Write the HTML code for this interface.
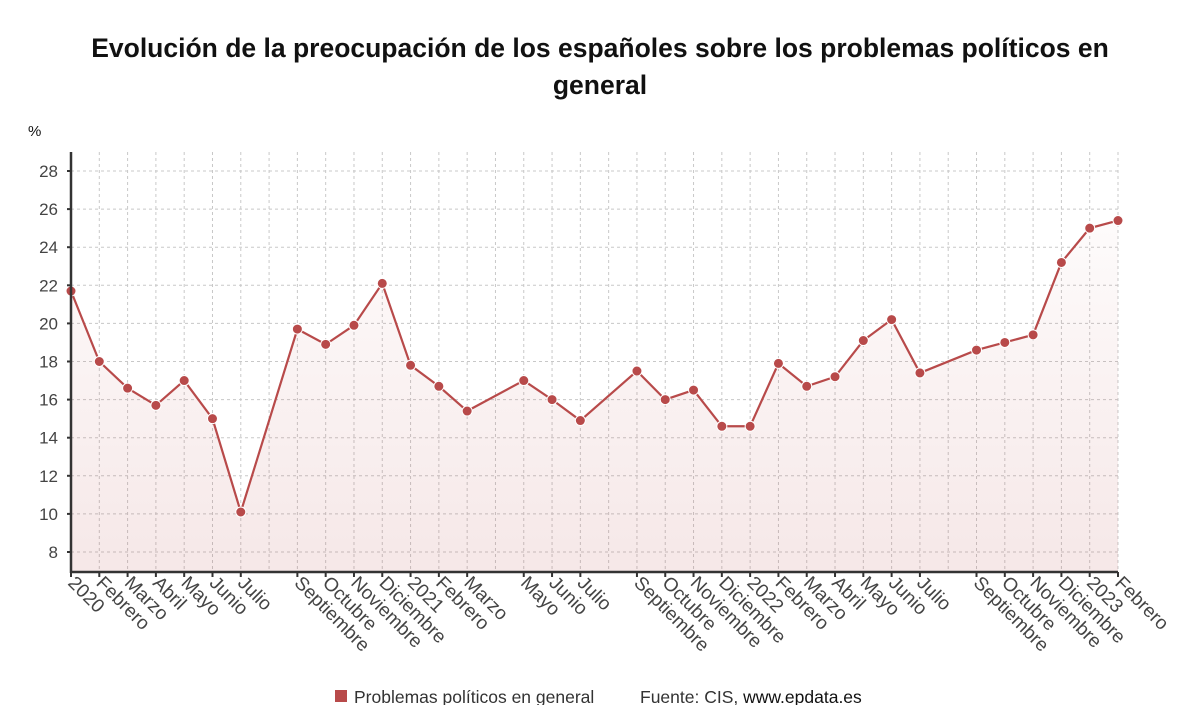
<!DOCTYPE html>
<html><head><meta charset="utf-8"><style>
body{margin:0;background:#fff;font-family:"Liberation Sans","DejaVu Sans",sans-serif}
</style></head><body>
<svg width="1200" height="705" xmlns="http://www.w3.org/2000/svg">
<defs><linearGradient id="g" x1="0" y1="0" x2="0" y2="1"><stop offset="0" stop-color="#b84a4a" stop-opacity="0.02"/><stop offset="1" stop-color="#b84a4a" stop-opacity="0.13"/></linearGradient></defs>
<text x="600" y="57" text-anchor="middle" font-size="26.5" font-weight="bold" fill="#111">Evolución de la preocupación de los españoles sobre los problemas políticos en</text>
<text x="600" y="94" text-anchor="middle" font-size="26.5" font-weight="bold" fill="#111">general</text>
<text x="28" y="136" font-size="15" fill="#111">%</text>
<g id="grid"></g><g id="area"></g><g id="line"></g><g id="axes"></g>
<g>
<rect x="335" y="690" width="12" height="12" fill="#b84a4a"/>
<text x="354" y="703" font-size="17.5" fill="#333">Problemas políticos en general</text>
<text x="640" y="703" font-size="17.5" fill="#333">Fuente: CIS, <tspan fill="#111">www.epdata.es</tspan></text>
</g>
</svg>
<script>
const idx=[0,1,2,3,4,5,6,8,9,10,11,12,13,14,16,17,18,20,21,22,23,24,25,26,27,28,29,30,32,33,34,35,36,37];
const labels=["2020","Febrero","Marzo","Abril","Mayo","Junio","Julio","Septiembre","Octubre","Noviembre","Diciembre","2021","Febrero","Marzo","Mayo","Junio","Julio","Septiembre","Octubre","Noviembre","Diciembre","2022","Febrero","Marzo","Abril","Mayo","Junio","Julio","Septiembre","Octubre","Noviembre","Diciembre","2023","Febrero"];
const values=[21.7,18.0,16.6,15.7,17.0,15.0,10.1,19.7,18.9,19.9,22.1,17.8,16.7,15.4,17.0,16.0,14.9,17.5,16.0,16.5,14.6,14.6,17.9,16.7,17.2,19.1,20.2,17.4,18.6,19.0,19.4,23.2,25.0,25.4];
const yTicks=[8,10,12,14,16,18,20,22,24,26,28];
const NS="http://www.w3.org/2000/svg";
const x=i=>71+i*(1118-71)/37, y=v=>552-(v-8)*(552-171)/20;
function mk(t,a,p){const e=document.createElementNS(NS,t);for(const k in a)e.setAttribute(k,a[k]);document.getElementById(p).appendChild(e);return e;}
for(let i=1;i<=37;i++){const e=mk('line',{x1:x(i),x2:x(i),y1:152,y2:572,stroke:'#c8c8c8','stroke-dasharray':'3,3'},'grid');

}
yTicks.forEach(v=>{const e=mk('line',{x1:71,x2:1118,y1:y(v),y2:y(v),stroke:'#c8c8c8','stroke-dasharray':'3,3'},'grid');


const t=mk('text',{x:58,y:y(v)+6,'text-anchor':'end','font-size':17,fill:'#444'},'axes');t.textContent=v;


mk('line',{x1:67,x2:71,y1:y(v),y2:y(v),stroke:'#333','stroke-width':2},'axes');});
let pts=idx.map((d,k)=>x(d)+','+y(values[k])).join(' ');
const a=mk('polygon',{points:x(0)+',572 '+pts+' '+x(37)+',572',fill:'url(#g)'},'area');


const l=mk('polyline',{points:pts,fill:'none',stroke:'#b84a4a','stroke-width':2.2},'line');


idx.forEach((d,k)=>{const c=mk('circle',{cx:x(d),cy:y(values[k]),r:5,fill:'#b84a4a',stroke:'#fff','stroke-width':1},'line');


mk('line',{x1:x(d),x2:x(d),y1:572,y2:577,stroke:'#333','stroke-width':2},'axes');
const t=mk('text',{x:0,y:0,'font-size':19,fill:'#444',transform:`translate(${x(d)-4},${584}) rotate(45)`},'axes');t.textContent=labels[k];

});
mk('line',{x1:71,x2:71,y1:152,y2:573,stroke:'#333','stroke-width':2.5},'axes');
mk('line',{x1:70,x2:1118,y1:572,y2:572,stroke:'#333','stroke-width':2.5},'axes');
</script>
</body></html>
